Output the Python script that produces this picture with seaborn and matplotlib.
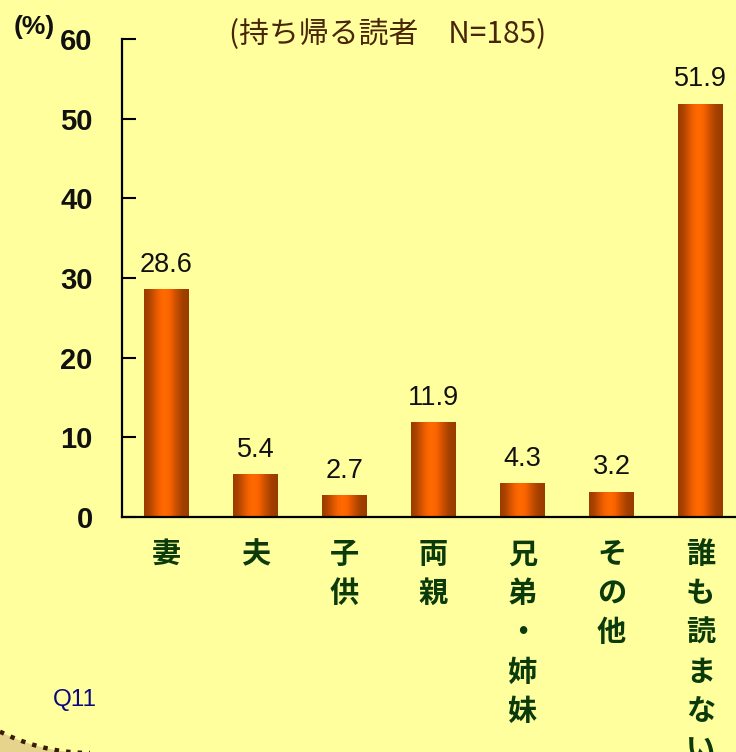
import numpy as np
import pandas as pd
import matplotlib
matplotlib.use("Agg")
import matplotlib.pyplot as plt
import seaborn as sns
from matplotlib.colors import LinearSegmentedColormap
from matplotlib.patches import Polygon

# Who reads the paper taken home (N=185), percent
categories = ["妻", "夫", "子供", "両親", "兄弟・姉妹", "その他", "誰も読まない"]
values = [28.6, 5.4, 2.7, 11.9, 4.3, 3.2, 51.9]
y_ticks = [0, 10, 20, 30, 40, 50, 60]
title_text = "(持ち帰る読者\u3000N=185)"
unit_text = "(%)"
question_text = "Q11"

BG = "#FFFF9E"
LABEL_GREEN = "#0B3A0B"
JP = ["Noto Sans CJK JP", "DejaVu Sans"]
LAT = ["Liberation Sans", "DejaVu Sans"]

sns.set_theme(style="white")
plt.rcParams["font.family"] = ["Liberation Sans", "Noto Sans CJK JP", "DejaVu Sans"]

fig = plt.figure(figsize=(7.36, 7.52), dpi=100, facecolor=BG)
ax = fig.add_axes([122 / 736, 1 - 517 / 752, 623 / 736, 478 / 752])
ax.set_facecolor(BG)

df = pd.DataFrame({"category": categories, "pct": values})
sns.barplot(data=df, x="category", y="pct", order=categories, width=0.5,
            color="#E85A00", edgecolor="none", linewidth=0, ax=ax, zorder=2)

# cylindrical shading across each bar
shade = LinearSegmentedColormap.from_list(
    "cyl",
    [(0.00, "#9C3C00"), (0.10, "#A84200"), (0.22, "#D05200"),
     (0.36, "#FA6400"), (0.46, "#FF6B00"), (0.58, "#F86200"),
     (0.72, "#C84E00"), (0.86, "#A24000"), (1.00, "#9A3A00")])
grad = np.linspace(0, 1, 256).reshape(1, -1)
for patch in list(ax.patches):
    x0, y0 = patch.get_x(), patch.get_y()
    w, h = patch.get_width(), patch.get_height()
    im = ax.imshow(grad, extent=[x0, x0 + w, y0, y0 + h], aspect="auto",
                   cmap=shade, zorder=2.5, interpolation="bicubic")
    im.set_clip_path(patch)

# value labels
for cont in ax.containers:
    ax.bar_label(cont, fmt="%.1f", padding=8, fontsize=19.5,
                 family=LAT, color="#111111")

ax.set_xlim(-0.5, len(categories) - 0.5)
ax.set_ylim(0, 60)
ax.set_aspect("auto")

ax.set_yticks(y_ticks)
ax.set_yticklabels([str(t) for t in y_ticks], fontsize=21, fontweight="bold",
                   family=LAT, color="#111111")

vertical = ["\n".join(c) for c in categories]
ax.set_xticks(range(len(categories)))
ax.set_xticklabels(vertical, family=JP, fontweight="bold", fontsize=21,
                   color=LABEL_GREEN, linespacing=1.38)
ax.set_xticks(np.arange(len(categories) - 1) + 0.5, minor=True)

ax.tick_params(axis="x", which="major", length=0, pad=16)
ax.tick_params(axis="x", which="minor", direction="in", length=9,
               width=1.5, color="black")
ax.tick_params(axis="y", direction="in", length=10, width=1.5,
               color="black", pad=21, left=True)

ax.set_xlabel("")
ax.set_ylabel("")
for side in ["top", "right"]:
    ax.spines[side].set_visible(False)
for side in ["left", "bottom"]:
    ax.spines[side].set_color("black")
    ax.spines[side].set_linewidth(1.6)
ax.grid(False)

# headings
fig.text(388 / 736, 1 - 34 / 752, title_text, ha="center", va="center",
         fontsize=21.5, family=JP, color="#4A2608")
fig.text(34 / 736, 1 - 27 / 752, unit_text, ha="center", va="center",
         fontsize=19, fontweight="bold", family=LAT, color="#111111")
fig.text(75 / 736, 1 - 700 / 752, question_text, ha="center", va="center",
         fontsize=17.5, family=LAT, color="#0A0A80")

# dotted border arc in the lower-left corner
cx, cy, r = 90, 752 - 553, 200
xs = np.linspace(0, 90, 60)
ys = cy - np.sqrt(r ** 2 - (xs - cx) ** 2)
fx, fy = xs / 736, ys / 752
fill = Polygon(np.column_stack([np.r_[fx, 90 / 736, 0], np.r_[fy, -0.01, -0.01]]),
               closed=True, transform=fig.transFigure, facecolor="#E6D48C",
               edgecolor="none", zorder=0)
fig.patches.append(fill)
fig.lines.append(plt.Line2D(fx, fy, transform=fig.transFigure, color="#3A1C00",
                            linewidth=3.2, linestyle=(0, (1, 1.6)),
                            dash_capstyle="butt", zorder=1))

fig.savefig("out.png", dpi=100, facecolor=BG)
